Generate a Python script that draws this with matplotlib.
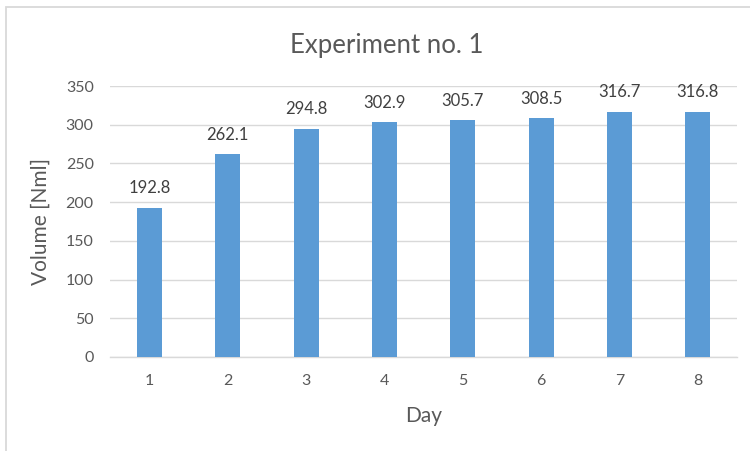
import matplotlib
matplotlib.use("Agg")
import matplotlib.pyplot as plt
from matplotlib.patches import Rectangle

days = ["1", "2", "3", "4", "5", "6", "7", "8"]
volumes = [192.8, 262.1, 294.8, 302.9, 305.7, 308.5, 316.7, 316.8]
y_ticks = [0, 50, 100, 150, 200, 250, 300, 350]

plt.rcParams["font.family"] = ["Lato", "DejaVu Sans"]

fig = plt.figure(figsize=(7.5, 4.51), dpi=100)
fig.patch.set_facecolor("white")

# chart frame (extends past the right and bottom edges)
fig.patches.append(Rectangle((5.5 / 750, -0.1), 1.2, 1 - 7.5 / 451 + 0.1,
                             transform=fig.transFigure, fill=False,
                             edgecolor="#D9D9D9", linewidth=1.3, zorder=0))

ax = fig.add_axes([110.4 / 750, 1 - 357 / 451, 626.4 / 750, 271 / 451])
x = list(range(len(days)))
bars = ax.bar(x, volumes, width=0.32, color="#5B9BD5", zorder=3)

ax.set_xlim(-0.5, len(days) - 0.5)
ax.set_ylim(0, 350)
ax.set_yticks(y_ticks)
ax.set_xticks(x)
ax.set_xticklabels(days)

ax.yaxis.grid(True, color="#D9D9D9", linewidth=1.0, zorder=0)
ax.set_axisbelow(True)
for side in ["top", "right", "left"]:
    ax.spines[side].set_visible(False)
ax.spines["bottom"].set_color("#D9D9D9")
ax.spines["bottom"].set_linewidth(1.0)
ax.tick_params(axis="both", length=0, labelsize=11.5, labelcolor="#595959")
ax.tick_params(axis="x", pad=12)
ax.tick_params(axis="y", pad=12)

for xi, v in zip(x, volumes):
    ax.annotate(f"{v:.1f}", (xi, v), xytext=(0, 14), textcoords="offset points",
                ha="center", va="center", fontsize=12, color="#404040")

ax.set_xlabel("Day", fontsize=15, color="#595959", labelpad=13)
ax.set_ylabel("Volume [Nml]", fontsize=15, color="#595959", labelpad=11)

fig.text(387 / 750, 1 - 46 / 451, "Experiment no. 1",
         ha="center", va="center", fontsize=18.5, color="#595959")

fig.savefig("out.png", dpi=100, facecolor="white")
